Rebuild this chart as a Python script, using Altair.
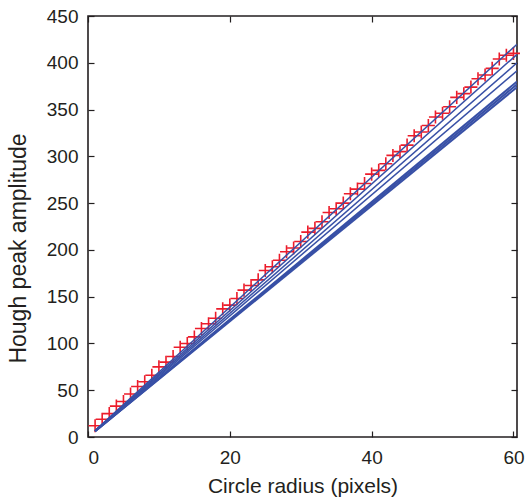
import altair as alt
import pandas as pd

# Measured Hough peak amplitude at each circle radius
radius = list(range(1, 61))
peak_amplitude = [12, 19, 25, 33, 38, 46, 54, 59, 66, 75,
                  80, 86, 96, 100, 107, 116, 121, 127, 137, 141,
                  148, 157, 162, 168, 178, 182, 189, 198, 202, 209,
                  219, 223, 230, 240, 244, 250, 260, 265, 271, 281,
                  285, 292, 301, 305, 312, 322, 326, 333, 342, 346,
                  353, 363, 367, 374, 383, 387, 394, 404, 408, 410]

# Model lines: amplitude gained per pixel of radius, and their widths
line_slopes = [6.94, 6.76, 6.61, 6.47, 6.28, 6.23, 6.18]
line_widths = [1.5, 1.5, 1.5, 1.5, 2.0, 2.0, 2.0]
line_r_range = [1, 60.5]

x_ticks = [0, 20, 40, 60]
y_ticks = [0, 50, 100, 150, 200, 250, 300, 350, 400, 450]

points = pd.DataFrame({"r": radius, "amp": peak_amplitude})
lines = pd.DataFrame(
    [
        {"line": i, "r": r, "amp": k * r, "w": w}
        for i, (k, w) in enumerate(zip(line_slopes, line_widths))
        for r in line_r_range
    ]
)

FONT = "Liberation Sans"
INK = "#231f20"
BLUE = "#3850a6"
RED = "#ec1c2b"
inward = alt.ExprRef(expr="-6")

x_scale = alt.Scale(domain=[0, 60.5], nice=False, zero=False)
y_scale = alt.Scale(domain=[0, 450], nice=False)

plus = "M-1,0L1,0M0,-1L0,1"

markers = alt.Chart(points).mark_point(
    shape=plus, filled=False, stroke=RED, strokeWidth=1.6, size=170, opacity=1
).encode(
    x=alt.X("r:Q", scale=x_scale,
            axis=alt.Axis(values=x_ticks, title="Circle radius (pixels)", orient="bottom",
                          tickSize=inward, labelPadding=17, titlePadding=8, format="d",
                          titleFontSize=21)),
    y=alt.Y("amp:Q", scale=y_scale,
            axis=alt.Axis(values=y_ticks, title="Hough peak amplitude", orient="left",
                          tickSize=inward, labelPadding=16, titlePadding=16, format="d",
                          titleFontSize=23, titleY=232)),
)

model_lines = alt.Chart(lines).mark_line(color=BLUE, clip=True).encode(
    x=alt.X("r:Q", scale=x_scale,
            axis=alt.Axis(values=x_ticks, labels=False, title=None, orient="top",
                          tickSize=inward)),
    y=alt.Y("amp:Q", scale=y_scale,
            axis=alt.Axis(values=y_ticks, labels=False, title=None, orient="right",
                          tickSize=inward)),
    detail="line:N",
    strokeWidth=alt.StrokeWidth("w:Q", scale=None),
)

chart = (
    alt.layer(markers, model_lines)
    .resolve_axis(x="independent", y="independent")
    .properties(
        width=429,
        height=421,
        autosize=alt.AutoSizeParams(type="none"),
        padding={"left": 88, "top": 16, "right": 8, "bottom": 60},
        background="white",
    )
    .configure_view(stroke=INK, strokeWidth=1.6)
    .configure_axis(
        grid=False,
        domain=False,
        tickColor=INK,
        tickWidth=1.2,
        labelFont=FONT,
        labelFontSize=19,
        labelColor=INK,
        titleFont=FONT,
        titleFontWeight="normal",
        titleColor=INK,
    )
)

chart.save("out.html", embed_options={"renderer": "svg", "actions": False})
